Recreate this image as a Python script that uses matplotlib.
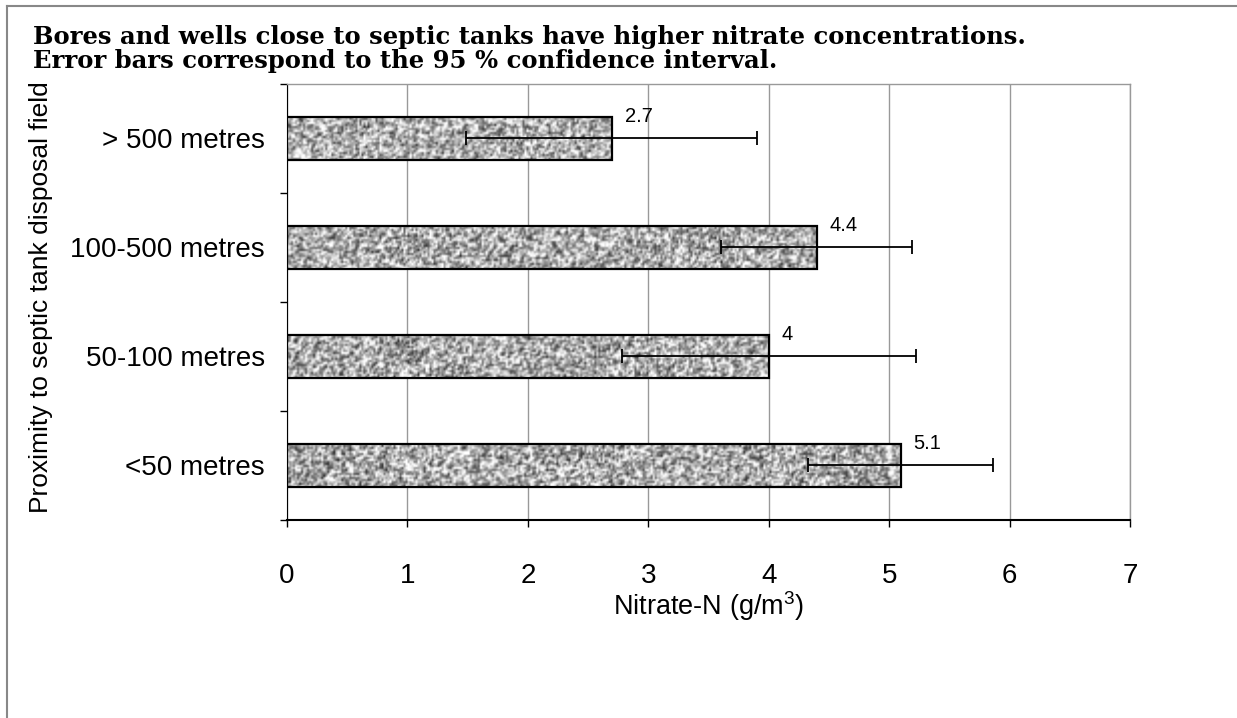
import numpy as np
import matplotlib
matplotlib.use("Agg")
import matplotlib.pyplot as plt
from matplotlib.lines import Line2D

categories = ["<50 metres", "50-100 metres", "100-500 metres", "> 500 metres"]
values = [5.1, 4.0, 4.4, 2.7]
ci_low = [4.33, 2.78, 3.60, 1.49]
ci_high = [5.86, 5.22, 5.19, 3.90]
value_labels = ["5.1", "4", "4.4", "2.7"]
x_ticks = [0, 1, 2, 3, 4, 5, 6, 7]

title_text = ("Bores and wells close to septic tanks have higher nitrate concentrations.\n"
              "Error bars correspond to the 95 % confidence interval.")

plt.rcParams['font.family'] = ['Liberation Sans', 'DejaVu Sans']
plt.rcParams['mathtext.fontset'] = 'custom'
plt.rcParams['mathtext.rm'] = 'Liberation Sans'
plt.rcParams['mathtext.it'] = 'Liberation Sans'

fig = plt.figure(figsize=(12.37, 7.18), dpi=100)
ax = fig.add_axes([287/1237, 1-520/718, (1130-287)/1237, (520-84)/718])

# frame lines of the figure
fig.add_artist(Line2D([7/1237, 1], [1-6/718, 1-6/718], color='#888888', lw=1.5, transform=fig.transFigure))
fig.add_artist(Line2D([7/1237, 7/1237], [0, 1-6/718], color='#888888', lw=1.5, transform=fig.transFigure))

fig.text(33/1237, 1-25/718, title_text, family='DejaVu Serif', fontweight='bold', fontsize=17.5,
         va='top', ha='left', linespacing=1.02, color='black')

y = np.arange(len(categories))
h = 0.4
rng = np.random.default_rng(3)
bars = ax.barh(y, values, height=h, facecolor='none', edgecolor='black', lw=1.6, zorder=3)
for bar, v in zip(bars, values):
    ny, nx = 22, max(4, int(v * 60))
    noise = rng.random((ny, nx))
    noise = 0.5 * noise + 0.25 * np.roll(noise, 1, axis=0) + 0.25 * np.roll(noise, 1, axis=1)
    shade = np.clip(0.68 + (noise - 0.5) * 1.1, 0, 1)
    bx, by = bar.get_x(), bar.get_y()
    ax.imshow(shade, cmap='gray', vmin=0, vmax=1,
              extent=(bx, bx + bar.get_width(), by, by + bar.get_height()),
              aspect='auto', interpolation='bilinear', zorder=2)

err_lo = [v - lo for v, lo in zip(values, ci_low)]
err_hi = [hi - v for v, hi in zip(values, ci_high)]
ax.errorbar(values, y, xerr=[err_lo, err_hi], fmt='none', ecolor='black', elinewidth=1.3,
            capsize=5, capthick=1.3, zorder=4)

for yi, v, lab in zip(y, values, value_labels):
    ax.annotate(lab, (v, yi + h/2), xytext=(9, 0), textcoords='offset points',
                ha='left', va='center', fontsize=14.5, zorder=5)

ax.set_xlim(0, 7)
ax.set_ylim(-0.5, len(categories) - 0.5)
ax.set_xticks(x_ticks)
ax.set_xticklabels([str(t) for t in x_ticks], fontsize=20)
ax.set_yticks(y)
ax.set_yticklabels(categories, fontsize=20)
ax.set_yticks(np.arange(len(categories) + 1) - 0.5, minor=True)
ax.tick_params(axis='y', which='major', length=0, pad=16)
ax.tick_params(axis='y', which='minor', length=5, width=1, direction='out', color='black')
ax.tick_params(axis='x', which='major', length=5, width=1, direction='out', pad=26)
ax.grid(axis='x', color='#999999', lw=1, zorder=0)
ax.set_axisbelow(True)

for s in ['top', 'right']:
    ax.spines[s].set_color('#999999')
    ax.spines[s].set_linewidth(1)
ax.spines['left'].set_color('black')
ax.spines['bottom'].set_color('black')
ax.spines['bottom'].set_linewidth(1.5)

ax.set_xlabel("Nitrate-N (g/m$^3$)", fontsize=19.5, labelpad=0)
ax.set_ylabel("Proximity to septic tank disposal field", fontsize=19)
ax.yaxis.set_label_coords(-0.2776, 0.5115)

fig.savefig("out.png", dpi=100)
